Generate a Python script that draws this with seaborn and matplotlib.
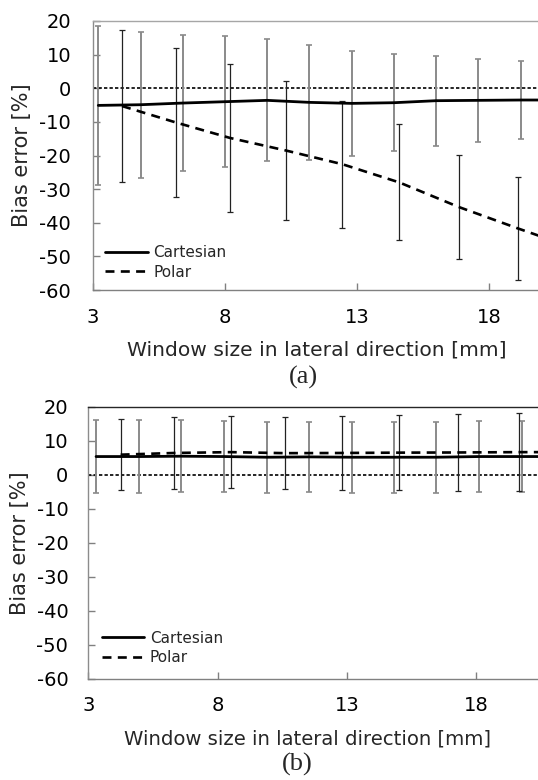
import matplotlib
matplotlib.use("Agg")
import matplotlib.pyplot as plt
import seaborn as sns
import numpy as np
import pandas as pd

# ---------------- data ----------------
# panel (a)
a_cart_x = [3.2, 4.8, 6.4, 8.0, 9.6, 11.2, 12.8, 14.4, 16.0, 17.6, 19.2, 20.8]
a_cart_mean = [-5.1, -4.9, -4.4, -4.0, -3.6, -4.2, -4.5, -4.3, -3.7, -3.6, -3.5, -3.5]
a_cart_err = [23.7, 21.7, 20.3, 19.4, 18.1, 17.0, 15.5, 14.5, 13.4, 12.4, 11.7, 11.0]

a_pol_x = [4.1, 6.15, 8.2, 10.3, 12.45, 14.6, 16.85, 19.1, 21.4]
a_pol_mean = [-5.3, -10.2, -14.8, -18.5, -22.6, -28.0, -35.3, -41.7, -48.0]
a_pol_err = [22.7, 22.2, 21.9, 20.8, 18.9, 17.25, 15.4, 15.2, 15.0]

# panel (b)
b_cart_x = [3.3, 4.95, 6.6, 8.25, 9.9, 11.55, 13.2, 14.8, 16.45, 18.1, 19.75, 21.4]
b_cart_mean = [5.4, 5.4, 5.5, 5.4, 5.2, 5.3, 5.2, 5.2, 5.2, 5.4, 5.4, 5.4]
b_cart_err = [10.7, 10.7, 10.6, 10.5, 10.4, 10.3, 10.4, 10.4, 10.4, 10.5, 10.5, 10.5]

b_pol_x = [4.25, 6.3, 8.5, 10.6, 12.8, 15.0, 17.3, 19.65, 22.0]
b_pol_mean = [5.95, 6.45, 6.7, 6.4, 6.45, 6.55, 6.6, 6.7, 6.7]
b_pol_err = [10.55, 10.65, 10.7, 10.7, 10.95, 11.05, 11.4, 11.5, 11.5]

series_labels = ["Cartesian", "Polar"]
x_ticks = [3, 8, 13, 18]
y_ticks = [20, 10, 0, -10, -20, -30, -40, -50, -60]
x_label = "Window size in lateral direction [mm]"
y_label = "Bias error [%]"
panel_labels = ["(a)", "(b)"]

# ---------------- figure ----------------
sns.set_style("white")
plt.rcParams["font.family"] = ["DejaVu Sans"]

W, H = 538, 780
fig = plt.figure(figsize=(W / 100, H / 100), dpi=100)


def fx(px):
    return px / W


def fy(py):
    return 1 - py / H


def make_panel(ax_rect, cx, cm, ce, px_, pm, pe, spine_top_col, ytick_pad, xtick_pad,
               leg_left, leg_cy, xlab_pos, ylab_pos, plab, plab_pos, xlab_size):
    ax = fig.add_axes(ax_rect)
    ax.set_xlim(3, 20.5)
    ax.set_ylim(-60, 20)

    # zero reference line
    ax.axhline(0, color="black", lw=1.2, linestyle=(0, (2.0, 1.3)), zorder=1)

    # error bars
    ax.errorbar(cx, cm, yerr=ce, fmt="none", ecolor="#8a8a8a", elinewidth=1.4,
                capsize=2.4, capthick=1.2, zorder=2)
    ax.errorbar(px_, pm, yerr=pe, fmt="none", ecolor="#222222", elinewidth=0.9,
                capsize=2.4, capthick=0.9, zorder=2)

    # lines
    df_c = pd.DataFrame({"x": cx, "y": cm})
    df_p = pd.DataFrame({"x": px_, "y": pm})
    sns.lineplot(data=df_c, x="x", y="y", ax=ax, color="black", lw=2.0,
                 label=series_labels[0], zorder=3)
    sns.lineplot(data=df_p, x="x", y="y", ax=ax, color="black", lw=1.9,
                 linestyle=(0, (3.4, 2.4)), label=series_labels[1], zorder=3)

    # spines
    ax.spines["right"].set_visible(False)
    ax.spines["left"].set_color("#8c8c8c")
    ax.spines["bottom"].set_color("#808080")
    ax.spines["top"].set_color(spine_top_col)
    for s in ax.spines.values():
        s.set_linewidth(1.0)

    ax.set_xticks(x_ticks)
    ax.set_yticks(y_ticks)
    ax.set_xticklabels([str(v) for v in x_ticks])
    ax.set_yticklabels([str(v) for v in y_ticks])
    ax.tick_params(axis="both", direction="in", length=5, width=1.0,
                   color="#808080", labelsize=14, labelcolor="black")
    ax.tick_params(axis="y", pad=ytick_pad, left=True)
    ax.tick_params(axis="x", pad=xtick_pad, bottom=True)

    ax.set_xlabel(x_label, fontsize=xlab_size)
    ax.xaxis.set_label_coords(fx(xlab_pos[0]), fy(xlab_pos[1]), transform=fig.transFigure)
    ax.xaxis.label.set_va("center")
    ax.set_ylabel(y_label, fontsize=15)
    ax.yaxis.set_label_coords(fx(ylab_pos[0]), fy(ylab_pos[1]), transform=fig.transFigure)
    ax.yaxis.label.set_va("center")

    h, l = ax.get_legend_handles_labels()
    ax.legend(h, l, frameon=False, loc="center left",
              bbox_to_anchor=(fx(leg_left), fy(leg_cy)), bbox_transform=fig.transFigure,
              borderaxespad=0, borderpad=0, handlelength=2.8, handletextpad=0.35,
              labelspacing=0.3, fontsize=11)

    fig.text(fx(plab_pos[0]), fy(plab_pos[1]), plab, ha="center", va="center",
             fontsize=19, family=["Liberation Serif", "DejaVu Serif"])
    return ax


# panel (a): x=3 at 93px, 26.4 px/unit; y 20 at 21px, -60 at 290px
a_left, a_scale = 93, 26.4
a_rect = [fx(a_left), fy(290), (17.5 * a_scale) / W, 269 / H]
make_panel(a_rect, a_cart_x, a_cart_mean, a_cart_err, a_pol_x, a_pol_mean, a_pol_err,
           "#a6a6a6", 15.8, 13, 105, 262.5, (317, 350), (22, 155.5), panel_labels[0],
           (303, 377), 14.6)

# panel (b): x=3 at 88.3px, 25.87 px/unit; y 20 at 407px, -60 at 678.5px
b_left, b_scale = 88.3, 25.87
b_rect = [fx(b_left), fy(678.5), (17.5 * b_scale) / W, 271.5 / H]
make_panel(b_rect, b_cart_x, b_cart_mean, b_cart_err, b_pol_x, b_pol_mean, b_pol_err,
           "#262626", 14.4, 12.5, 101.7, 648, (308, 739), (20, 543), panel_labels[1],
           (297, 764), 14.1)

fig.savefig("out.png", dpi=100)
